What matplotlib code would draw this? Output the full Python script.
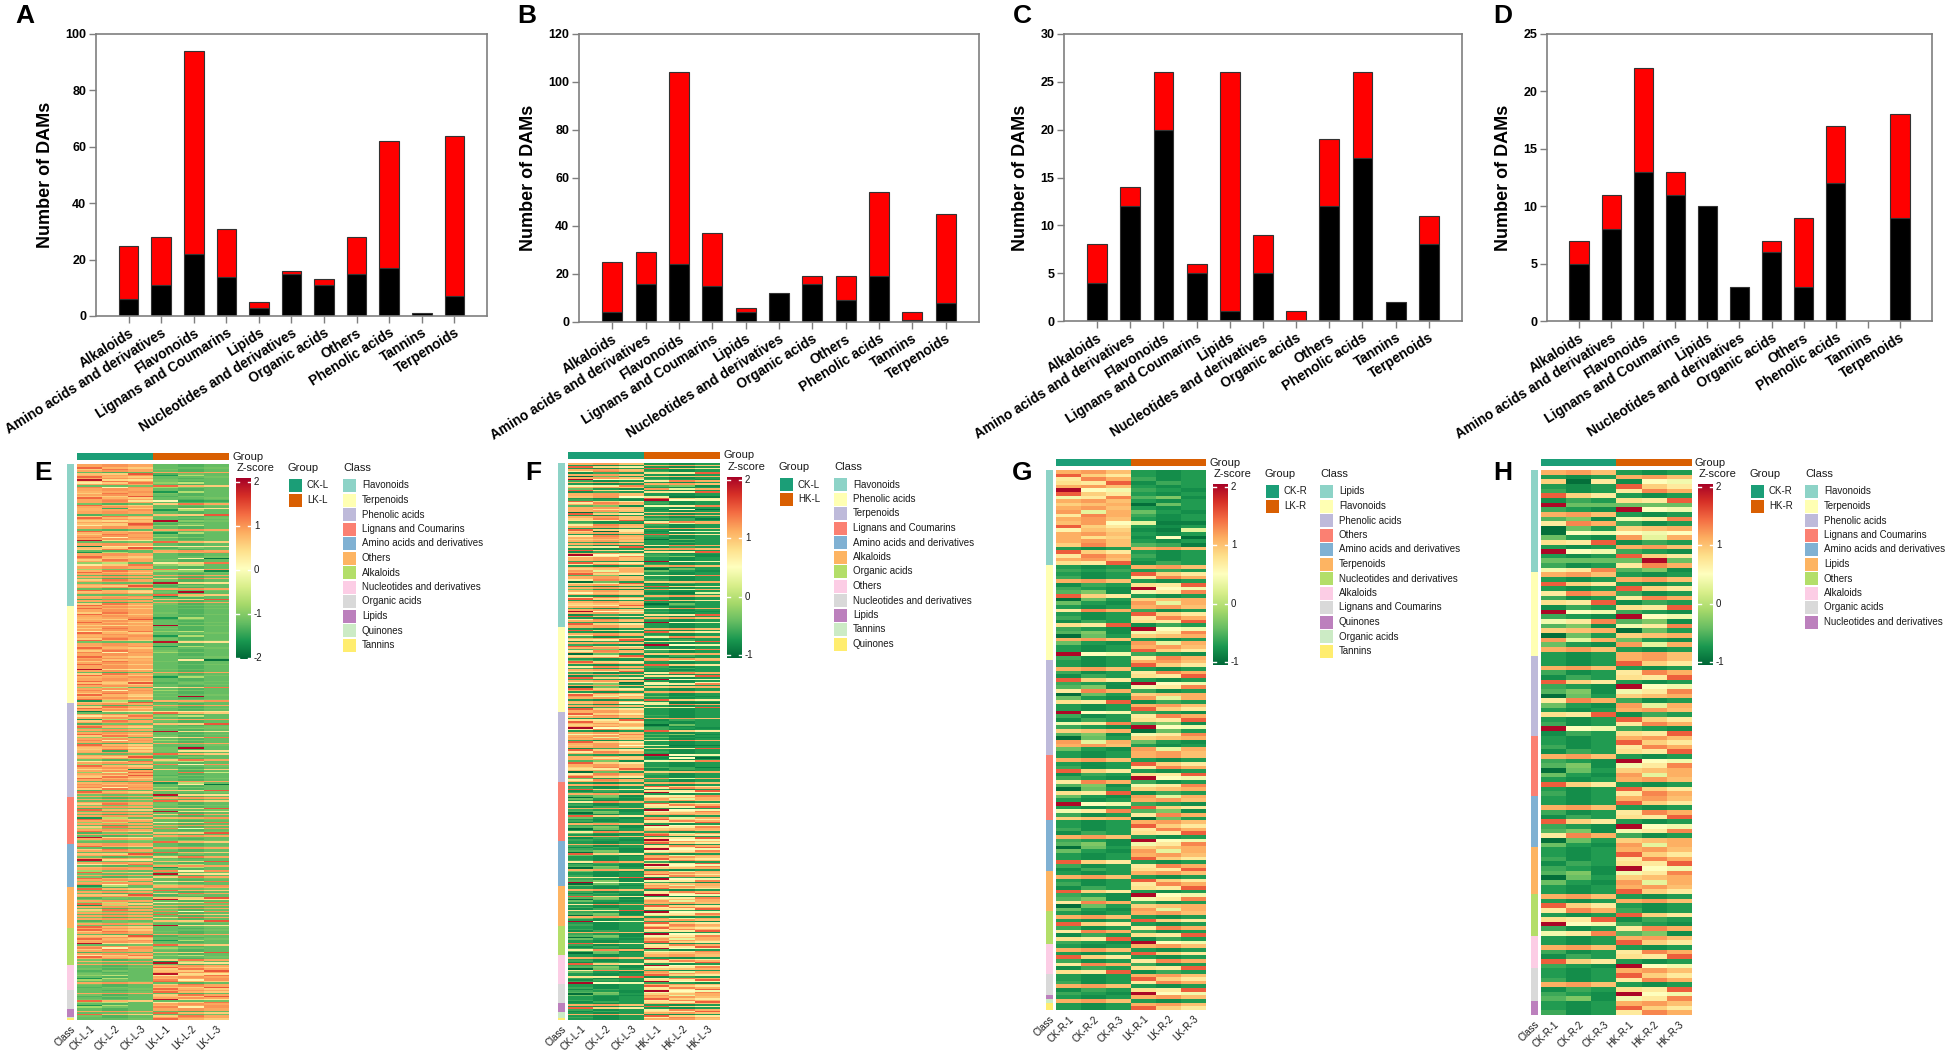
import numpy as np
import matplotlib
matplotlib.use('Agg')
import matplotlib.pyplot as plt
from matplotlib.colors import ListedColormap
from matplotlib.patches import Rectangle

plt.rcParams['font.family'] = ['Liberation Sans', 'DejaVu Sans']

W, H = 1949, 1050

# ---------------- stacked bar data (A-D) ----------------
bar_classes = ['Alkaloids', 'Amino acids and derivatives', 'Flavonoids', 'Lignans and Coumarins',
               'Lipids', 'Nucleotides and derivatives', 'Organic acids', 'Others',
               'Phenolic acids', 'Tannins', 'Terpenoids']

A_down = [6, 11, 22, 14, 3, 15, 11, 15, 17, 1, 7]
A_up = [19, 17, 72, 17, 2, 1, 2, 13, 45, 0, 57]
B_down = [4, 16, 24, 15, 4, 12, 16, 9, 19, 1, 8]
B_up = [21, 13, 80, 22, 2, 0, 3, 10, 35, 3, 37]
C_down = [4, 12, 20, 5, 1, 5, 0, 12, 17, 2, 8]
C_up = [4, 2, 6, 1, 25, 4, 1, 7, 9, 0, 3]
D_down = [5, 8, 13, 11, 10, 3, 6, 3, 12, 0, 9]
D_up = [2, 3, 9, 2, 0, 0, 1, 6, 5, 0, 9]

# ---------------- heatmap data (E-H) ----------------
# each row of a heatmap is one DAM, coded by a letter -> z-score profile
# (CK-1, CK-2, CK-3, treat-1, treat-2, treat-3)
E_profiles = {
    'a': [0.9, 1.0, 0.9, -1.2, -1.3, -1.2],
    'b': [1.3, 0.8, 0.6, -1.2, -1.2, -1.1],
    'c': [0.6, 1.2, 0.9, -1.1, -1.3, -1.2],
    'd': [0.7, 0.6, 1.4, -1.3, -1.1, -1.2],
    'e': [1.9, 0.5, 0.4, -1.1, -1.2, -1.2],
    'f': [0.3, 0.6, 1.2, -0.9, -0.6, -1.2],
    'g': [0.8, 0.9, 1.0, -1.6, -0.7, -1.2],
    'h': [1.1, 0.2, 1.0, -0.8, -1.1, -1.2],
    'i': [0.9, 1.1, 0.4, 0.1, -1.5, -1.4],
    'j': [0.5, 0.9, 0.8, -1.2, -1.6, 0.1],
    'k': [1.0, 0.7, 0.8, -1.2, 0.3, -1.9],
    'l': [0.8, 1.2, 0.9, -0.8, -0.9, -1.7],
    'm': [0.8, -1.4, 0.6, -1.1, 0.4, 0.4],
    'o': [0.5, 0.7, -1.7, 0.6, -1.0, 0.6],
    'p': [-0.9, -0.3, 1.3, -1.2, 1.2, -0.5],
    'q': [-1.8, 0.4, 0.3, 0.4, 0.3, 0.4],
    'u': [0.6, 0.5, 0.7, 2.0, -1.0, -1.1],
    'v': [0.7, 0.8, 0.5, -1.1, 2.0, -1.2],
    'y': [-1.0, -1.1, -1.0, -1.1, -1.0, -1.1],
    'A': [-1.2, -1.3, -1.2, 0.9, 1.0, 0.9],
    'B': [-1.2, -1.2, -1.1, 1.3, 0.8, 0.6],
    'C': [-1.1, -1.3, -1.2, 0.6, 1.2, 0.9],
    'D': [-1.3, -1.1, -1.2, 0.7, 0.6, 1.4],
    'E': [-1.1, -1.2, -1.2, 1.9, 0.5, 0.4],
    'F': [-0.9, -0.6, -1.2, 0.3, 0.6, 1.2],
    'G': [-1.6, -0.7, -1.2, 0.8, 0.9, 1.0],
    'H': [-0.8, -1.1, -1.2, 1.1, 0.2, 1.0],
}

FGH_profiles = {
    'a': [1.1, 1.2, 1.0, -0.7, -0.8, -0.7],
    'b': [1.5, 0.9, 0.7, -0.7, -0.8, -0.7],
    'c': [0.7, 1.3, 1.1, -0.6, -0.8, -0.7],
    'd': [0.8, 0.7, 1.5, -0.8, -0.6, -0.7],
    'e': [2.0, 0.5, 0.4, -0.6, -0.7, -0.8],
    'f': [0.4, 0.7, 1.3, -0.5, -0.3, -0.8],
    'g': [0.9, 1.0, 1.1, -1.0, -0.4, -0.7],
    'h': [1.2, 0.3, 1.1, -0.4, -0.7, -0.8],
    'i': [1.0, 1.2, 0.5, 0.3, -0.9, -0.9],
    'j': [0.6, 1.0, 0.9, -0.8, -0.9, 0.3],
    'k': [1.1, 0.8, 0.9, -0.8, 0.5, -1.0],
    'l': [0.9, 1.3, 1.0, -0.5, -0.6, -0.9],
    'm': [0.9, -1.0, 0.7, -0.8, 0.5, 0.4],
    'o': [0.6, 0.8, -1.0, 0.7, -0.7, 0.6],
    'q': [-1.0, 0.5, 0.4, 0.5, 0.4, 0.5],
    'r': [2.0, -0.4, -0.4, -0.4, -0.4, -0.4],
    'v': [-0.4, -0.4, -0.4, -0.4, 2.0, -0.4],
    'y': [-0.6, -0.7, -0.6, -0.7, -0.6, -0.7],
    'A': [-0.7, -0.8, -0.7, 1.1, 1.2, 1.0],
    'B': [-0.7, -0.8, -0.7, 1.5, 0.9, 0.7],
    'C': [-0.6, -0.8, -0.7, 0.7, 1.3, 1.1],
    'D': [-0.8, -0.6, -0.7, 0.8, 0.7, 1.5],
    'E': [-0.6, -0.7, -0.8, 2.0, 0.5, 0.4],
    'F': [-0.5, -0.3, -0.8, 0.4, 0.7, 1.3],
    'G': [-1.0, -0.4, -0.7, 0.9, 1.0, 1.1],
    'H': [-0.4, -0.7, -0.8, 1.2, 0.3, 1.1],
}

E_groups = ['CK-L', 'LK-L']
E_samples = ['CK-L-1', 'CK-L-2', 'CK-L-3', 'LK-L-1', 'LK-L-2', 'LK-L-3']
E_classes = ['Flavonoids', 'Terpenoids', 'Phenolic acids', 'Lignans and Coumarins',
             'Amino acids and derivatives', 'Others', 'Alkaloids', 'Nucleotides and derivatives',
             'Organic acids', 'Lipids', 'Quinones', 'Tannins']
E_rows = [
    'aabcaAdgba' 'ecfaBhaagc' 'adbaiaCbam' 'gaaDcbauad' 'faaAbgcaha'
    'eBaaqdcAGa' 'abkcaFfaaH' 'lbaAaCcaEa' 'daAbvaBgaD' 'aAcb',
    'abaacbagda' 'bauacafbag' 'acbEaagbac' 'haabakcaba' 'aeaAcbgaab' 'dbaFahacbv' 'abGd',
    'aAcbaqBafa' 'GcaDabyaEa' 'bcFahaAbav' 'cmaBadaCfa' 'Hbaoapadcb' 'aAgkahcDba' 'Ea',
    'AaBacyaDbE' 'aCaGbaFaAc' 'HabDaAeayB' 'a',
    'abAcaBdaCa' 'eDafAgaHbE' 'aCbaFahG',
    'AbBaCdaDEa' 'FbGaAcHaBa' 'CaDyaEb',
    'abcaAdabga' 'eBahcaDafb' 'aCgEa',
    'ABCDAEFAGHBaCADB',
    'ABaCDAEbFAGHA',
    'AaBbC',
    'A',
    'B',
]

F_groups = ['CK-L', 'HK-L']
F_samples = ['CK-L-1', 'CK-L-2', 'CK-L-3', 'HK-L-1', 'HK-L-2', 'HK-L-3']
F_classes = ['Flavonoids', 'Phenolic acids', 'Terpenoids', 'Lignans and Coumarins',
             'Amino acids and derivatives', 'Alkaloids', 'Organic acids', 'Others',
             'Nucleotides and derivatives', 'Lipids', 'Tannins', 'Quinones']
F_rows = [
    'aAbBacDaGa' 'eCaAfaHbDa' 'aiBEbcaFak' 'aGbAaldCHc' 'aAbmaBcaga'
    'yaCdAbDaef' 'aaEbcAagha' 'bFaacGdaBa' 'HajaAcbBag' 'daCaeaDbAc' 'aEba',
    'aAbBacCadD' 'aEbaFcaGda' 'AHbaBcyadC' 'aDbEaoFaGb' 'aAcbhaBaiC' 'aDba',
    'abcaAdbaga' 'ecBafahaCb' 'aiaDbcaEak' 'aFbaaldaGc' 'abHca',
    'AaBCbDEaFG' 'HAcBCDaEFG' 'AbHBCDaEFG' 'AcHBaDE',
    'ABaCDEFGbH' 'ABCcDEFGaH' 'ABCdEFeGH',
    'ABaCDEbFGH' 'AcBCDdEFGa' 'HAeBC',
    'ABCDaEFGHA' 'BbCDEcFGA',
    'AaBCDbEFGc' 'HABdCDEe',
    'ABCDEFGHABCD',
    'AaBbCD',
    'AaBC',
    'A',
]

G_groups = ['CK-R', 'LK-R']
G_samples = ['CK-R-1', 'CK-R-2', 'CK-R-3', 'LK-R-1', 'LK-R-2', 'LK-R-3']
G_classes = ['Lipids', 'Flavonoids', 'Phenolic acids', 'Others', 'Amino acids and derivatives',
             'Terpenoids', 'Nucleotides and derivatives', 'Alkaloids', 'Lignans and Coumarins',
             'Quinones', 'Organic acids', 'Tannins']
G_rows = [
    'abcdaebfag' 'ahcaibjaka' 'lAbcad',
    'AyBCaDEFbG' 'HAcBCDdEFG' 'aHABeC',
    'ABaCDbEFcG' 'HdABeCDfEg' 'FGhaHA',
    'AaBCbDEcFG' 'dHAeBfCg',
    'ABCDaEFGHABbCD',
    'AaBCDbEFcGH',
    'AaBbCcDdE',
    'AaBbCcDd',
    'ABCaDE',
    'A',
    'a',
    'AB',
]

H_groups = ['CK-R', 'HK-R']
H_samples = ['CK-R-1', 'CK-R-2', 'CK-R-3', 'HK-R-1', 'HK-R-2', 'HK-R-3']
H_classes = ['Flavonoids', 'Terpenoids', 'Phenolic acids', 'Lignans and Coumarins',
             'Amino acids and derivatives', 'Lipids', 'Others', 'Alkaloids', 'Organic acids',
             'Nucleotides and derivatives']
H_rows = [
    'aAmBCbDrEa' 'FcGqHdAeBv' 'Cf',
    'aAbBcCdDeE' 'fFgGhHaA',
    'ABaCDbEFGc' 'HAdBCeD',
    'ABCDaEFGHAbBC',
    'ABaCDbEFcGH',
    'ABCDEFGHAB',
    'aAbcBdeCf',
    'ABaCDbE',
    'ABCaDEF',
    'ABC',
]

SET3 = ['#8DD3C7', '#FFFFB3', '#BEBADA', '#FB8072', '#80B1D3', '#FDB462',
        '#B3DE69', '#FCCDE5', '#D9D9D9', '#BC80BD', '#CCEBC5', '#FFED6F']
CK_COL, TR_COL = '#1B9E77', '#D95F02'
TXT = '#1a1a1a'


def px_rect(x0, y0, x1, y1):
    return [x0 / W, 1 - y1 / H, (x1 - x0) / W, (y1 - y0) / H]


fig = plt.figure(figsize=(W / 100, H / 100), dpi=100)
ov = fig.add_axes([0, 0, 1, 1])
ov.set_xlim(0, W)
ov.set_ylim(H, 0)
ov.axis('off')


def draw_bars(box, down, up, ymax, ystep, letter, letter_x):
    ax = fig.add_axes(px_rect(*box))
    x = np.arange(len(bar_classes))
    lw_d = [0.8 if v > 0 else 0 for v in down]
    lw_u = [0.8 if v > 0 else 0 for v in up]
    ax.bar(x, down, 0.6, color='black', edgecolor='#333333', linewidth=lw_d)
    ax.bar(x, up, 0.6, bottom=down, color='#FF0000', edgecolor='#333333', linewidth=lw_u)
    ax.set_xlim(-1, len(x))
    ax.set_ylim(0, ymax)
    ax.set_yticks(np.arange(0, ymax + 1, ystep))
    ax.set_xticks(x)
    ax.set_xticklabels(bar_classes, rotation=32, ha='right', rotation_mode='anchor',
                       fontsize=9.9, fontweight='bold')
    for lab in ax.get_yticklabels():
        lab.set_fontweight('bold')
        lab.set_fontsize(9)
    for sp in ax.spines.values():
        sp.set_color('#7f7f7f')
        sp.set_linewidth(1.2)
    ax.tick_params(direction='out', length=5, width=1, color='#7f7f7f', pad=2)
    ax.set_ylabel('Number of DAMs', fontsize=13, fontweight='bold', labelpad=8)
    ov.text(letter_x, 16, letter, fontsize=19, fontweight='bold', ha='center', va='center')
    return ax


draw_bars((96, 34, 487, 316), A_down, A_up, 100, 20, 'A', 25)
draw_bars((579, 34, 979, 322), B_down, B_up, 120, 20, 'B', 527)
draw_bars((1064, 34, 1462, 321), C_down, C_up, 30, 5, 'C', 1022)
draw_bars((1547, 34, 1932, 321), D_down, D_up, 25, 5, 'D', 1503)

# legend of panel A
ov.add_patch(Rectangle((403, 52), 30, 9, facecolor='black', edgecolor='#333333', lw=0.6))
ov.add_patch(Rectangle((403, 69), 30, 9, facecolor='#FF0000', edgecolor='#333333', lw=0.6))
ov.text(441, 56.5, 'down', fontsize=10, fontweight='bold', va='center')
ov.text(441, 73.5, 'up', fontsize=10, fontweight='bold', va='center')


def draw_heatmap(classes, rows, groups, samples, prof, box, vmin, vmax, ticks, letter, letter_x):
    hx0, hx1, gtop, hbot = box
    htop = gtop + 11
    mat = np.array([prof[ch] for s in rows for ch in s])
    cls = np.concatenate([np.full(len(s), i) for i, s in enumerate(rows)])

    ax = fig.add_axes(px_rect(hx0, gtop, hx1, gtop + 7))
    ax.imshow([[0, 0, 0, 1, 1, 1]], cmap=ListedColormap([CK_COL, TR_COL]), vmin=0, vmax=1,
              aspect='auto', interpolation='nearest')
    ax.axis('off')

    ax = fig.add_axes(px_rect(hx0, htop, hx1, hbot))
    ax.imshow(mat, cmap='RdYlGn_r', vmin=vmin, vmax=vmax, aspect='auto', interpolation='nearest')
    ax.axis('off')

    ax = fig.add_axes(px_rect(hx0 - 10, htop, hx0 - 3, hbot))
    ax.imshow(cls[:, None], cmap=ListedColormap(SET3[:len(classes)]), vmin=-0.5,
              vmax=len(classes) - 0.5, aspect='auto', interpolation='nearest')
    ax.axis('off')

    # column labels
    cw = (hx1 - hx0) / 6
    ov.text(hx0 - 6.5, hbot + 4, 'Class', rotation=45, ha='right', va='top',
            rotation_mode='anchor', fontsize=7, color=TXT)
    for k, s in enumerate(samples):
        ov.text(hx0 + cw * (k + 0.5), hbot + 4, s, rotation=45, ha='right', va='top',
                rotation_mode='anchor', fontsize=7, color=TXT)

    ov.text(hx1 + 4, gtop + 3.5, 'Group', fontsize=8, va='center', color=TXT)
    ov.text(hx1 + 8, gtop + 15, 'Z-score', fontsize=8, va='center', color=TXT)

    # colour key
    cb_top = gtop + 25
    ax = fig.add_axes(px_rect(hx1 + 7, cb_top, hx1 + 22, cb_top + 181))
    grad = np.linspace(vmax, vmin, 256)[:, None]
    ax.imshow(grad, cmap='RdYlGn_r', vmin=vmin, vmax=vmax, aspect='auto',
              extent=[0, 1, vmin, vmax])
    ax.set_xlim(0, 1)
    ax.set_ylim(vmin, vmax)
    for t in ticks:
        ax.plot([0, 0.2], [t, t], color='white', lw=1)
        ax.plot([0.8, 1], [t, t], color='white', lw=1)
        ax.text(1.2, t, str(t), fontsize=7, va='center', color=TXT)
    ax.axis('off')

    # legends
    lx = hx1 + 59
    ov.text(lx, gtop + 15, 'Group', fontsize=8, va='center', color=TXT)
    for k, (g, col) in enumerate(zip(groups, [CK_COL, TR_COL])):
        y = gtop + 26 + k * 14.5
        ov.add_patch(Rectangle((lx + 1, y), 13, 13, facecolor=col, edgecolor='none'))
        ov.text(lx + 19, y + 6.5, g, fontsize=7, va='center', color=TXT)
    cx = hx1 + 114
    ov.text(cx, gtop + 15, 'Class', fontsize=8, va='center', color=TXT)
    for k, c in enumerate(classes):
        y = gtop + 26 + k * 14.5
        ov.add_patch(Rectangle((cx, y), 13, 13, facecolor=SET3[k], edgecolor='none'))
        ov.text(cx + 19, y + 6.5, c, fontsize=7, va='center', color=TXT)

    ov.text(letter_x, 473, letter, fontsize=19, fontweight='bold', ha='center', va='center')


draw_heatmap(E_classes, E_rows, E_groups, E_samples, E_profiles, (77, 229, 453, 1020),
             -2.02, 2.09, [2, 1, 0, -1, -2], 'E', 43)
draw_heatmap(F_classes, F_rows, F_groups, F_samples, FGH_profiles, (568, 720, 452, 1020),
             -1.05, 2.05, [2, 1, 0, -1], 'F', 533)
draw_heatmap(G_classes, G_rows, G_groups, G_samples, FGH_profiles, (1056, 1206, 459, 1010),
             -1.05, 2.05, [2, 1, 0, -1], 'G', 1022)
draw_heatmap(H_classes, H_rows, H_groups, H_samples, FGH_profiles, (1541, 1691, 459, 1015),
             -1.05, 2.05, [2, 1, 0, -1], 'H', 1503)

fig.savefig('out.png', dpi=100)
